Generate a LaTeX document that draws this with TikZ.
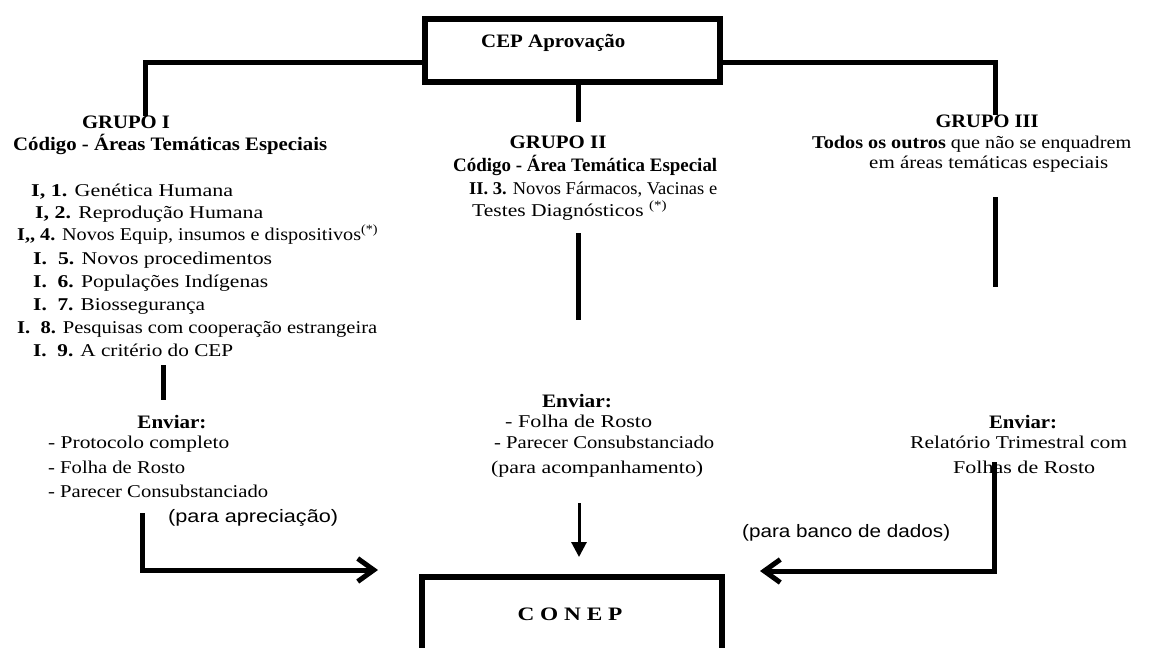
\documentclass[tikz,border=0pt]{standalone}
\usepackage{fontspec}
\setmainfont{Liberation Serif}
\newfontfamily\arialf{Liberation Sans}
\usepackage{graphicx}
\usetikzlibrary{arrows.meta}
\newcommand{\fitw}[2]{\resizebox{#1pt}{\height}{#2}}
\begin{document}
\begin{tikzpicture}[x=1pt,y=-1pt,
  lt/.style={anchor=base west, inner sep=0pt, font=\fontsize{18}{21}\selectfont},
  ct/.style={anchor=base, inner sep=0pt, font=\fontsize{18}{21}\selectfont},
  hl/.style={anchor=base west, inner sep=0pt, font=\fontsize{19}{22}\selectfont\bfseries},
  hc/.style={anchor=base, inner sep=0pt, font=\fontsize{19}{22}\selectfont\bfseries},
  sl/.style={anchor=base west, inner sep=0pt, font=\fontsize{18}{21}\selectfont\arialf},
  box/.style={draw, line width=6pt, inner sep=0pt},
  conn/.style={line width=5pt},
  openarrow/.style={line width=5pt, -{Straight Barb[length=16pt,width=23pt]}},
  fillarrow/.style={line width=3pt, -{Triangle[length=15pt,width=15pt]}}]
\useasboundingbox[fill=white] (0,0) rectangle (1149,648);

% boxes
\node[box, minimum width=295pt, minimum height=63pt] (cep) at (572.5,50.5) {};
\node[box, minimum width=300pt, minimum height=100pt] (conep) at (572,627) {};
\node[hl] (ceptxt) at (481,47) {\fitw{144}{CEP Aprovação}};
\node[hc] (conteptxt) at (570,620) {\fitw{105}{C O N E P}};

% Grupo I
\node[hc] (g1h) at (126,128) {\fitw{88}{GRUPO I}};
\node[hl] (g1c) at (13,150) {\fitw{314}{Código - Áreas Temáticas Especiais}};
\node[lt] (i1) at (31,196) {\fitw{202}{\textbf{I, 1.} Genética Humana}};
\node[lt] (i2) at (35,218) {\fitw{228}{\textbf{I, 2.} Reprodução Humana}};
\node[lt] (i4) at (17,240) {\fitw{361}{\textbf{I,\kern0pt, 4.} Novos Equip, insumos e dispositivos\textsuperscript{(*)}}};
\node[lt] (i5) at (33,264) {\fitw{239}{\textbf{I.~~5.} Novos procedimentos}};
\node[lt] (i6) at (33,287) {\fitw{235}{\textbf{I.~~6.} Populações Indígenas}};
\node[lt] (i7) at (33,310) {\fitw{172}{\textbf{I.~~7.} Biossegurança}};
\node[lt] (i8) at (17,333) {\fitw{360}{\textbf{I.~~8.} Pesquisas com cooperação estrangeira}};
\node[lt] (i9) at (33,356) {\fitw{200}{\textbf{I.~~9.} A critério do CEP}};

% Grupo II
\node[hc] (g2h) at (558,148) {\fitw{97}{GRUPO II}};
\node[hl] (g2c) at (453,171) {\fitw{264}{Código - Área Temática Especial}};
\node[lt] (ii3) at (469,194) {\fitw{248}{\textbf{II. 3.} Novos Fármacos, Vacinas e}};
\node[lt] (ii3b) at (472,216) {\fitw{195}{Testes Diagnósticos \textsuperscript{(*)}}};

% Grupo III
\node[hc] (g3h) at (987,127) {\fitw{103}{GRUPO III}};
\node[lt] (g3c) at (812,148) {\fitw{319}{\textbf{Todos os outros} que não se enquadrem}};
\node[lt] (g3d) at (869,168) {\fitw{239}{em áreas temáticas especiais}};

% Enviar blocks
\node[hc] (e1h) at (172,428) {\fitw{69}{Enviar:}};
\node[lt] (e1a) at (48,448) {\fitw{181}{- Protocolo completo}};
\node[lt] (e1b) at (48,473) {\fitw{137}{- Folha de Rosto}};
\node[lt] (e1c) at (48,497) {\fitw{220}{- Parecer Consubstanciado}};
\node[sl] (e1d) at (168,522) {\fitw{170}{(para apreciação)}};

\node[hc] (e2h) at (577,407) {\fitw{70}{Enviar:}};
\node[lt] (e2a) at (505,427) {\fitw{147}{- Folha de Rosto}};
\node[lt] (e2b) at (494,448) {\fitw{220}{- Parecer Consubstanciado}};
\node[lt] (e2c) at (491,473) {\fitw{212}{(para acompanhamento)}};

\node[hc] (e3h) at (1023,428) {\fitw{68}{Enviar:}};
\node[lt] (e3a) at (910,448) {\fitw{217}{Relatório Trimestral com}};
\node[lt] (e3b) at (953,473) {\fitw{142}{Folhas de Rosto}};
\node[sl] (e3c) at (742,537) {\fitw{208}{(para banco de dados)}};

% connector end points
\coordinate (lv) at (0,62);
\coordinate (g1top) at (145,116);
\coordinate (g2top) at (578,122);
\coordinate (g3top) at (995,115);
\coordinate (c2a) at (578,233);
\coordinate (c2b) at (578,320);
\coordinate (c3a) at (995,197);
\coordinate (c3b) at (995,287);
\coordinate (c1a) at (163,365);
\coordinate (c1b) at (163,400);
\coordinate (la) at (142,513);
\coordinate (lend) at (378,570);
\coordinate (ma) at (579,503);
\coordinate (mend) at (579,557);
\coordinate (ra) at (994,462);
\coordinate (rend) at (760,571);

% connectors
\draw[conn] (cep.west |- lv) -| (g1top);
\draw[conn] (cep.east |- lv) -| (g3top);
\draw[conn] (g2top |- cep.south) -- (g2top);
\draw[conn] (c2a) -- (c2b);
\draw[conn] (c3a) -- (c3b);
\draw[conn] (c1a) -- (c1b);
\draw[openarrow] (la) |- (lend);
\draw[fillarrow] (ma) -- (mend);
\draw[openarrow] (ra) |- (rend);
\end{tikzpicture}
\end{document}
